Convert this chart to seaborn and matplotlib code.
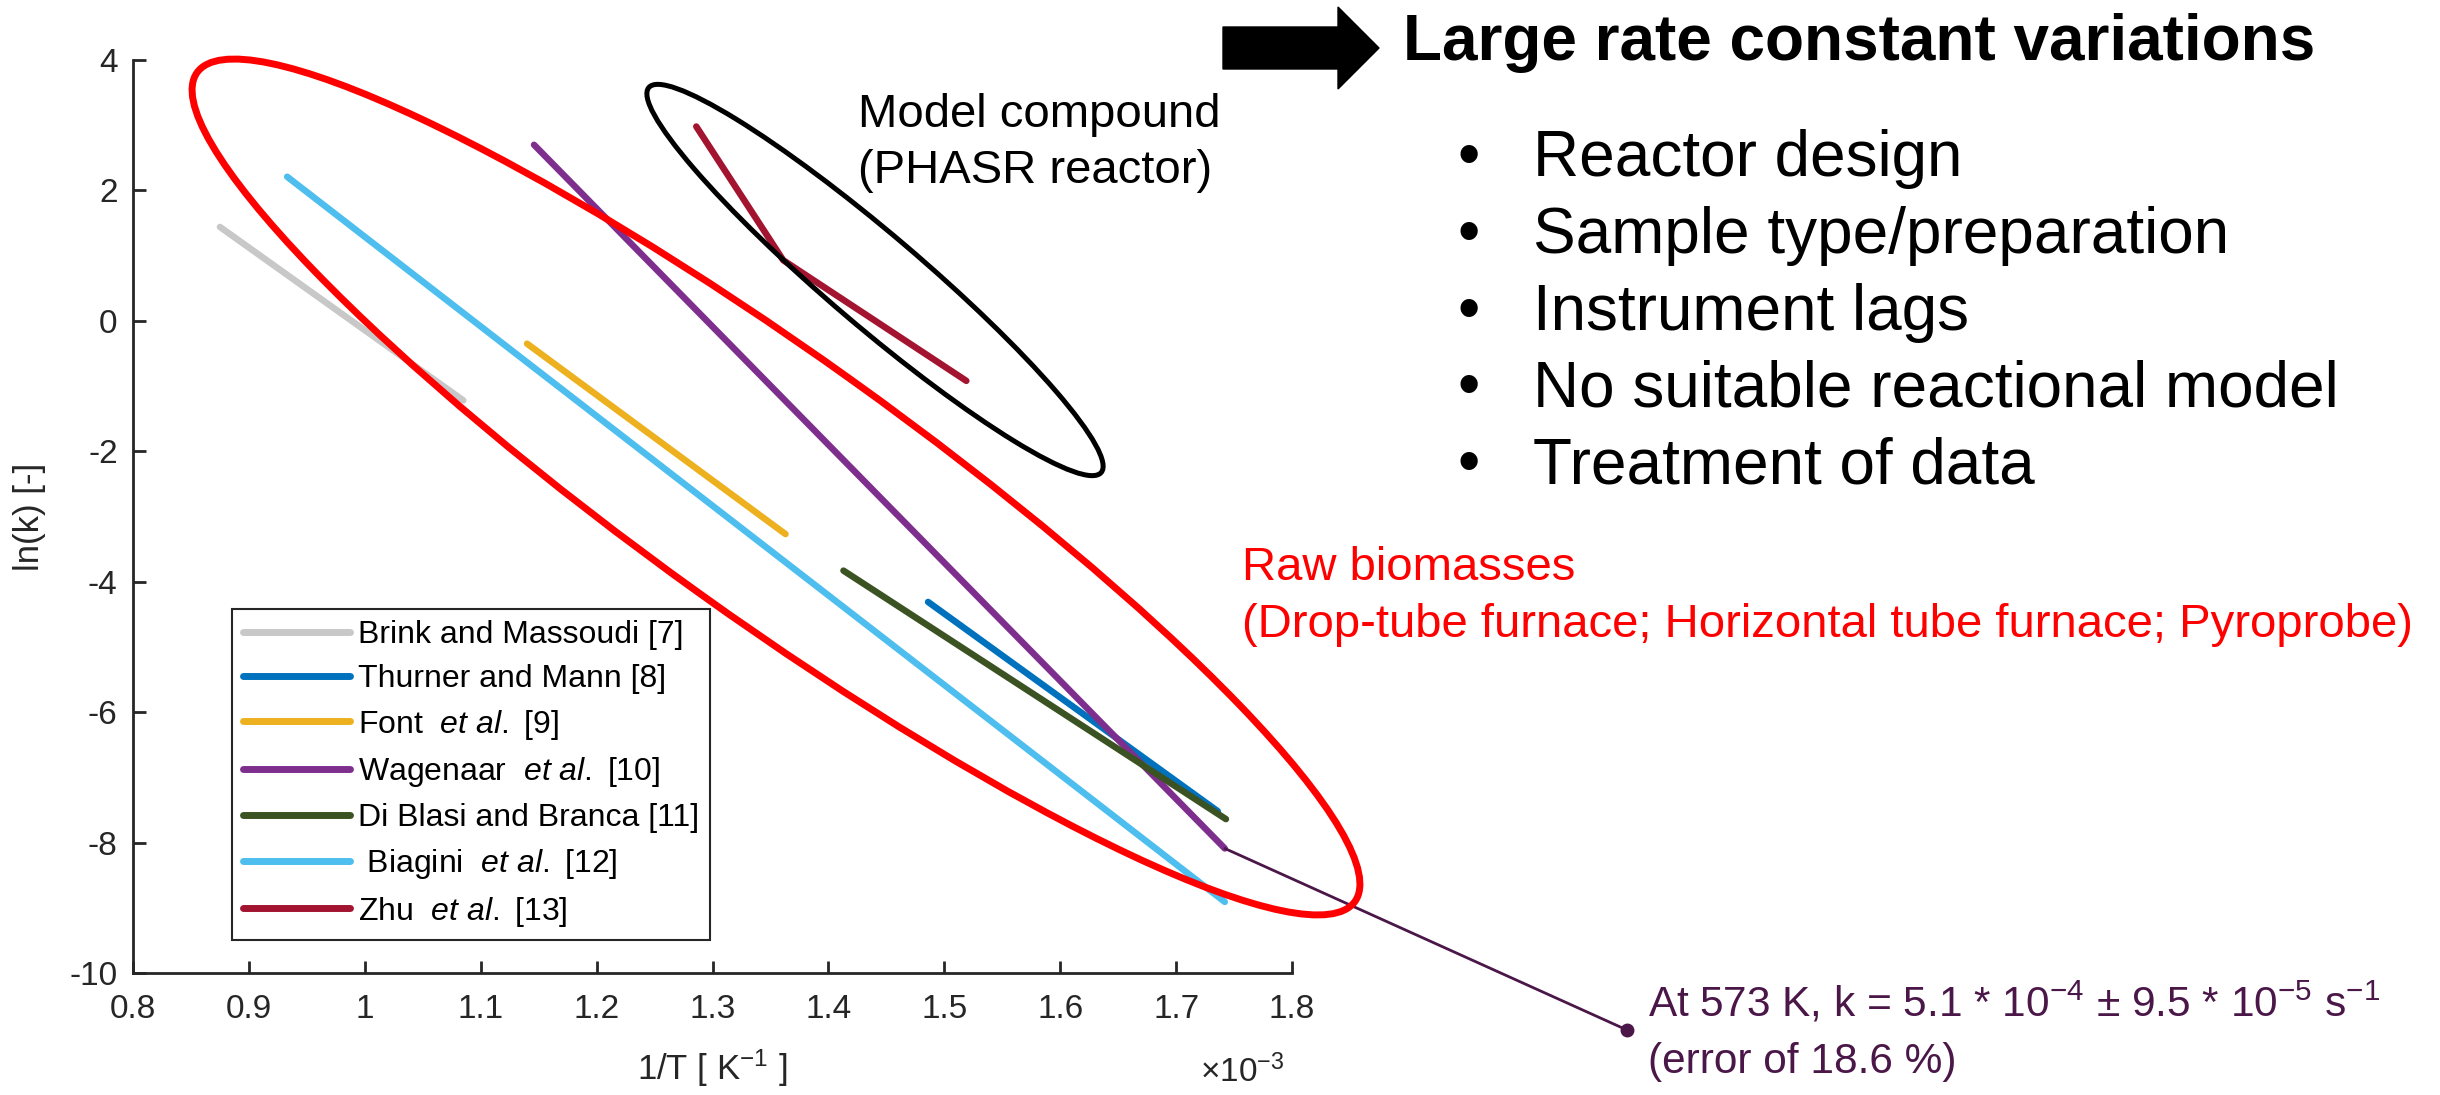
import numpy as np
import pandas as pd
import seaborn as sns
import matplotlib.pyplot as plt
from matplotlib.lines import Line2D
from matplotlib.patches import Ellipse, Polygon

# Arrhenius lines, 1/T in 1e-3 K^-1 and ln(k)
study_keys = ["brink", "thurner", "font", "wagenaar", "diblasi", "biagini", "zhu"]
study_labels = [
    "Brink and Massoudi [7]",
    "Thurner and Mann [8]",
    "Font  $\\mathit{et\\ al.}$ [9]",
    "Wagenaar  $\\mathit{et\\ al.}$ [10]",
    "Di Blasi and Branca [11]",
    " Biagini  $\\mathit{et\\ al.}$ [12]",
    "Zhu  $\\mathit{et\\ al.}$ [13]",
]
study_colors = ["#C8C8C8", "#0072BD", "#EDB120", "#7E2F8E", "#3B5323", "#4DBEEE", "#A2142F"]

brink_x = [0.875, 1.085]
brink_y = [1.44, -1.22]
thurner_x = [1.486, 1.736]
thurner_y = [-4.31, -7.52]
font_x = [1.140, 1.363]
font_y = [-0.35, -3.27]
wagenaar_x = [1.146, 1.742]
wagenaar_y = [2.70, -8.09]
diblasi_x = [1.413, 1.743]
diblasi_y = [-3.83, -7.64]
biagini_x = [0.933, 1.742]
biagini_y = [2.21, -8.91]
zhu_x = [1.286, 1.361, 1.519]
zhu_y = [2.98, 0.93, -0.92]

x_ticks = [0.8, 0.9, 1.0, 1.1, 1.2, 1.3, 1.4, 1.5, 1.6, 1.7, 1.8]
x_tick_labels = ["0.8", "0.9", "1", "1.1", "1.2", "1.3", "1.4", "1.5", "1.6", "1.7", "1.8"]
y_ticks = [-10, -8, -6, -4, -2, 0, 2, 4]

bullets = ["Reactor design", "Sample type/preparation", "Instrument lags",
           "No suitable reactional model", "Treatment of data"]

series = {
    "brink": (brink_x, brink_y), "thurner": (thurner_x, thurner_y),
    "font": (font_x, font_y), "wagenaar": (wagenaar_x, wagenaar_y),
    "diblasi": (diblasi_x, diblasi_y), "biagini": (biagini_x, biagini_y),
    "zhu": (zhu_x, zhu_y),
}
rows = []
for key, (xs, ys) in series.items():
    for i, (xv, yv) in enumerate(zip(xs, ys)):
        rows.append({"study": key, "inv_T": xv, "ln_k": yv, "n": i})
df = pd.DataFrame(rows)

sns.set_style("ticks")
plt.rcParams["font.family"] = ["Liberation Sans", "DejaVu Sans"]
plt.rcParams["mathtext.fontset"] = "custom"
plt.rcParams["mathtext.rm"] = "Liberation Sans"
plt.rcParams["mathtext.it"] = "Liberation Sans:italic"
plt.rcParams["mathtext.bf"] = "Liberation Sans:bold"
plt.rcParams["mathtext.default"] = "regular"
plt.rcParams["axes.unicode_minus"] = False
plt.rcParams["text.color"] = "black"

W, H = 2440, 1095
fig = plt.figure(figsize=(W / 100, H / 100), dpi=100)
ax = fig.add_axes([133 / W, (H - 973) / H, (1292 - 133) / W, (973 - 60) / H])

def fy(py):  # pixel row from top -> figure fraction
    return 1 - py / H

sns.lineplot(data=df, x="inv_T", y="ln_k", hue="study", hue_order=study_keys,
             palette=study_colors, estimator=None, sort=False, units="study",
             linewidth=4.7, legend=False, ax=ax, zorder=3)

ax.set_xlim(0.8, 1.8)
ax.set_ylim(-10, 4)
ax.set_xticks(x_ticks)
ax.set_xticklabels(x_tick_labels)
ax.set_yticks(y_ticks)
sns.despine(ax=ax)
for s in ["left", "bottom"]:
    ax.spines[s].set_color("#262626")
    ax.spines[s].set_linewidth(2)
ax.tick_params(axis="both", direction="in", length=9, width=2, colors="#262626",
               labelsize=24, bottom=True, left=True)
ax.tick_params(axis="x", pad=15)
ax.tick_params(axis="y", pad=11)

ax.set_xlabel("1/T [ K$^{-1}$ ]", fontsize=25, color="#262626")
ax.xaxis.set_label_coords(0.5, (973 - 1068) / 913)
ax.xaxis.label.set_va("center")
ax.set_ylabel("ln(k) [-]", fontsize=25, color="#262626")
ax.yaxis.set_label_coords((30 - 133) / 1159, 0.5)
ax.yaxis.label.set_va("center")
fig.text(1200 / W, fy(1082), "\u00d710$^{-3}$", fontsize=24, color="#262626",
         ha="left", va="baseline")

handles = [Line2D([0], [0], color=c, lw=5) for c in study_colors]
leg = ax.legend(handles, study_labels, loc="upper left",
                bbox_to_anchor=((232 - 133) / 1159, (973 - 609) / 913),
                borderaxespad=0, frameon=True, fancybox=False, fontsize=23,
                handlelength=3.35, handletextpad=0.25, labelspacing=0.43,
                borderpad=0.35)
leg.get_frame().set_edgecolor("#262626")
leg.get_frame().set_linewidth(1.5)
leg.get_frame().set_facecolor("white")
leg.get_frame().set_alpha(1)
for t in leg.get_texts():
    t.set_color("black")

# hand-drawn group ellipses (figure inches)
inch = fig.dpi_scale_trans
fig.patches.append(Ellipse((776 / 100, (H - 487) / 100), 14.24, 2.62, angle=-35.6,
                           fill=False, ec="#FF0000", lw=5, transform=inch, zorder=5))
fig.patches.append(Ellipse((875 / 100, (H - 280) / 100), 5.94, 0.92, angle=-40.4,
                           fill=False, ec="black", lw=3.6, transform=inch, zorder=5))

# leader from the 573 K point of Wagenaar et al.
purple = "#4A1748"
ax.annotate("", xy=(wagenaar_x[-1], wagenaar_y[-1]), xycoords="data",
            xytext=(1627, H - 1030), textcoords="figure pixels",
            arrowprops=dict(arrowstyle="-", color=purple, lw=2,
                            shrinkA=0, shrinkB=0), zorder=6)
fig.lines.append(Line2D([1627 / W], [fy(1030)], marker="o", ms=9, color=purple,
                        transform=fig.transFigure))

fig.text(1648 / W, fy(1016),
         "At 573 K, k = 5.1 * 10$^{-4}$ \u00b1 9.5 * 10$^{-5}$ s$^{-1}$",
         fontsize=30.5, color=purple, ha="left", va="baseline")
fig.text(1648 / W, fy(1073), "(error of 18.6 %)", fontsize=30.5, color=purple,
         ha="left", va="baseline")

fig.text(858 / W, fy(127), "Model compound", fontsize=34, ha="left", va="baseline")
fig.text(858 / W, fy(183), "(PHASR reactor)", fontsize=34, ha="left", va="baseline")

fig.text(1242 / W, fy(580), "Raw biomasses", fontsize=34, color="#FF0000",
         ha="left", va="baseline")
fig.text(1242 / W, fy(637), "(Drop-tube furnace; Horizontal tube furnace; Pyroprobe)",
         fontsize=34, color="#FF0000", ha="left", va="baseline")

# block arrow and heading
arrow_px = [(1223, 27), (1338, 27), (1338, 7), (1379, 48), (1338, 89), (1338, 69), (1223, 69)]
fig.patches.append(Polygon([(x / 100, (H - y) / 100) for x, y in arrow_px],
                           closed=True, fc="black", ec="black", transform=inch))
fig.text(1403 / W, fy(60), "Large rate constant variations", fontsize=46,
         fontweight="bold", ha="left", va="baseline")

for i, item in enumerate(bullets):
    base = 176 + i * 76.8
    fig.text(1469 / W, fy(base), "\u2022", fontsize=46, ha="center", va="baseline")
    fig.text(1533 / W, fy(base), item, fontsize=46, ha="left", va="baseline")

fig.savefig("out.png", dpi=100)
